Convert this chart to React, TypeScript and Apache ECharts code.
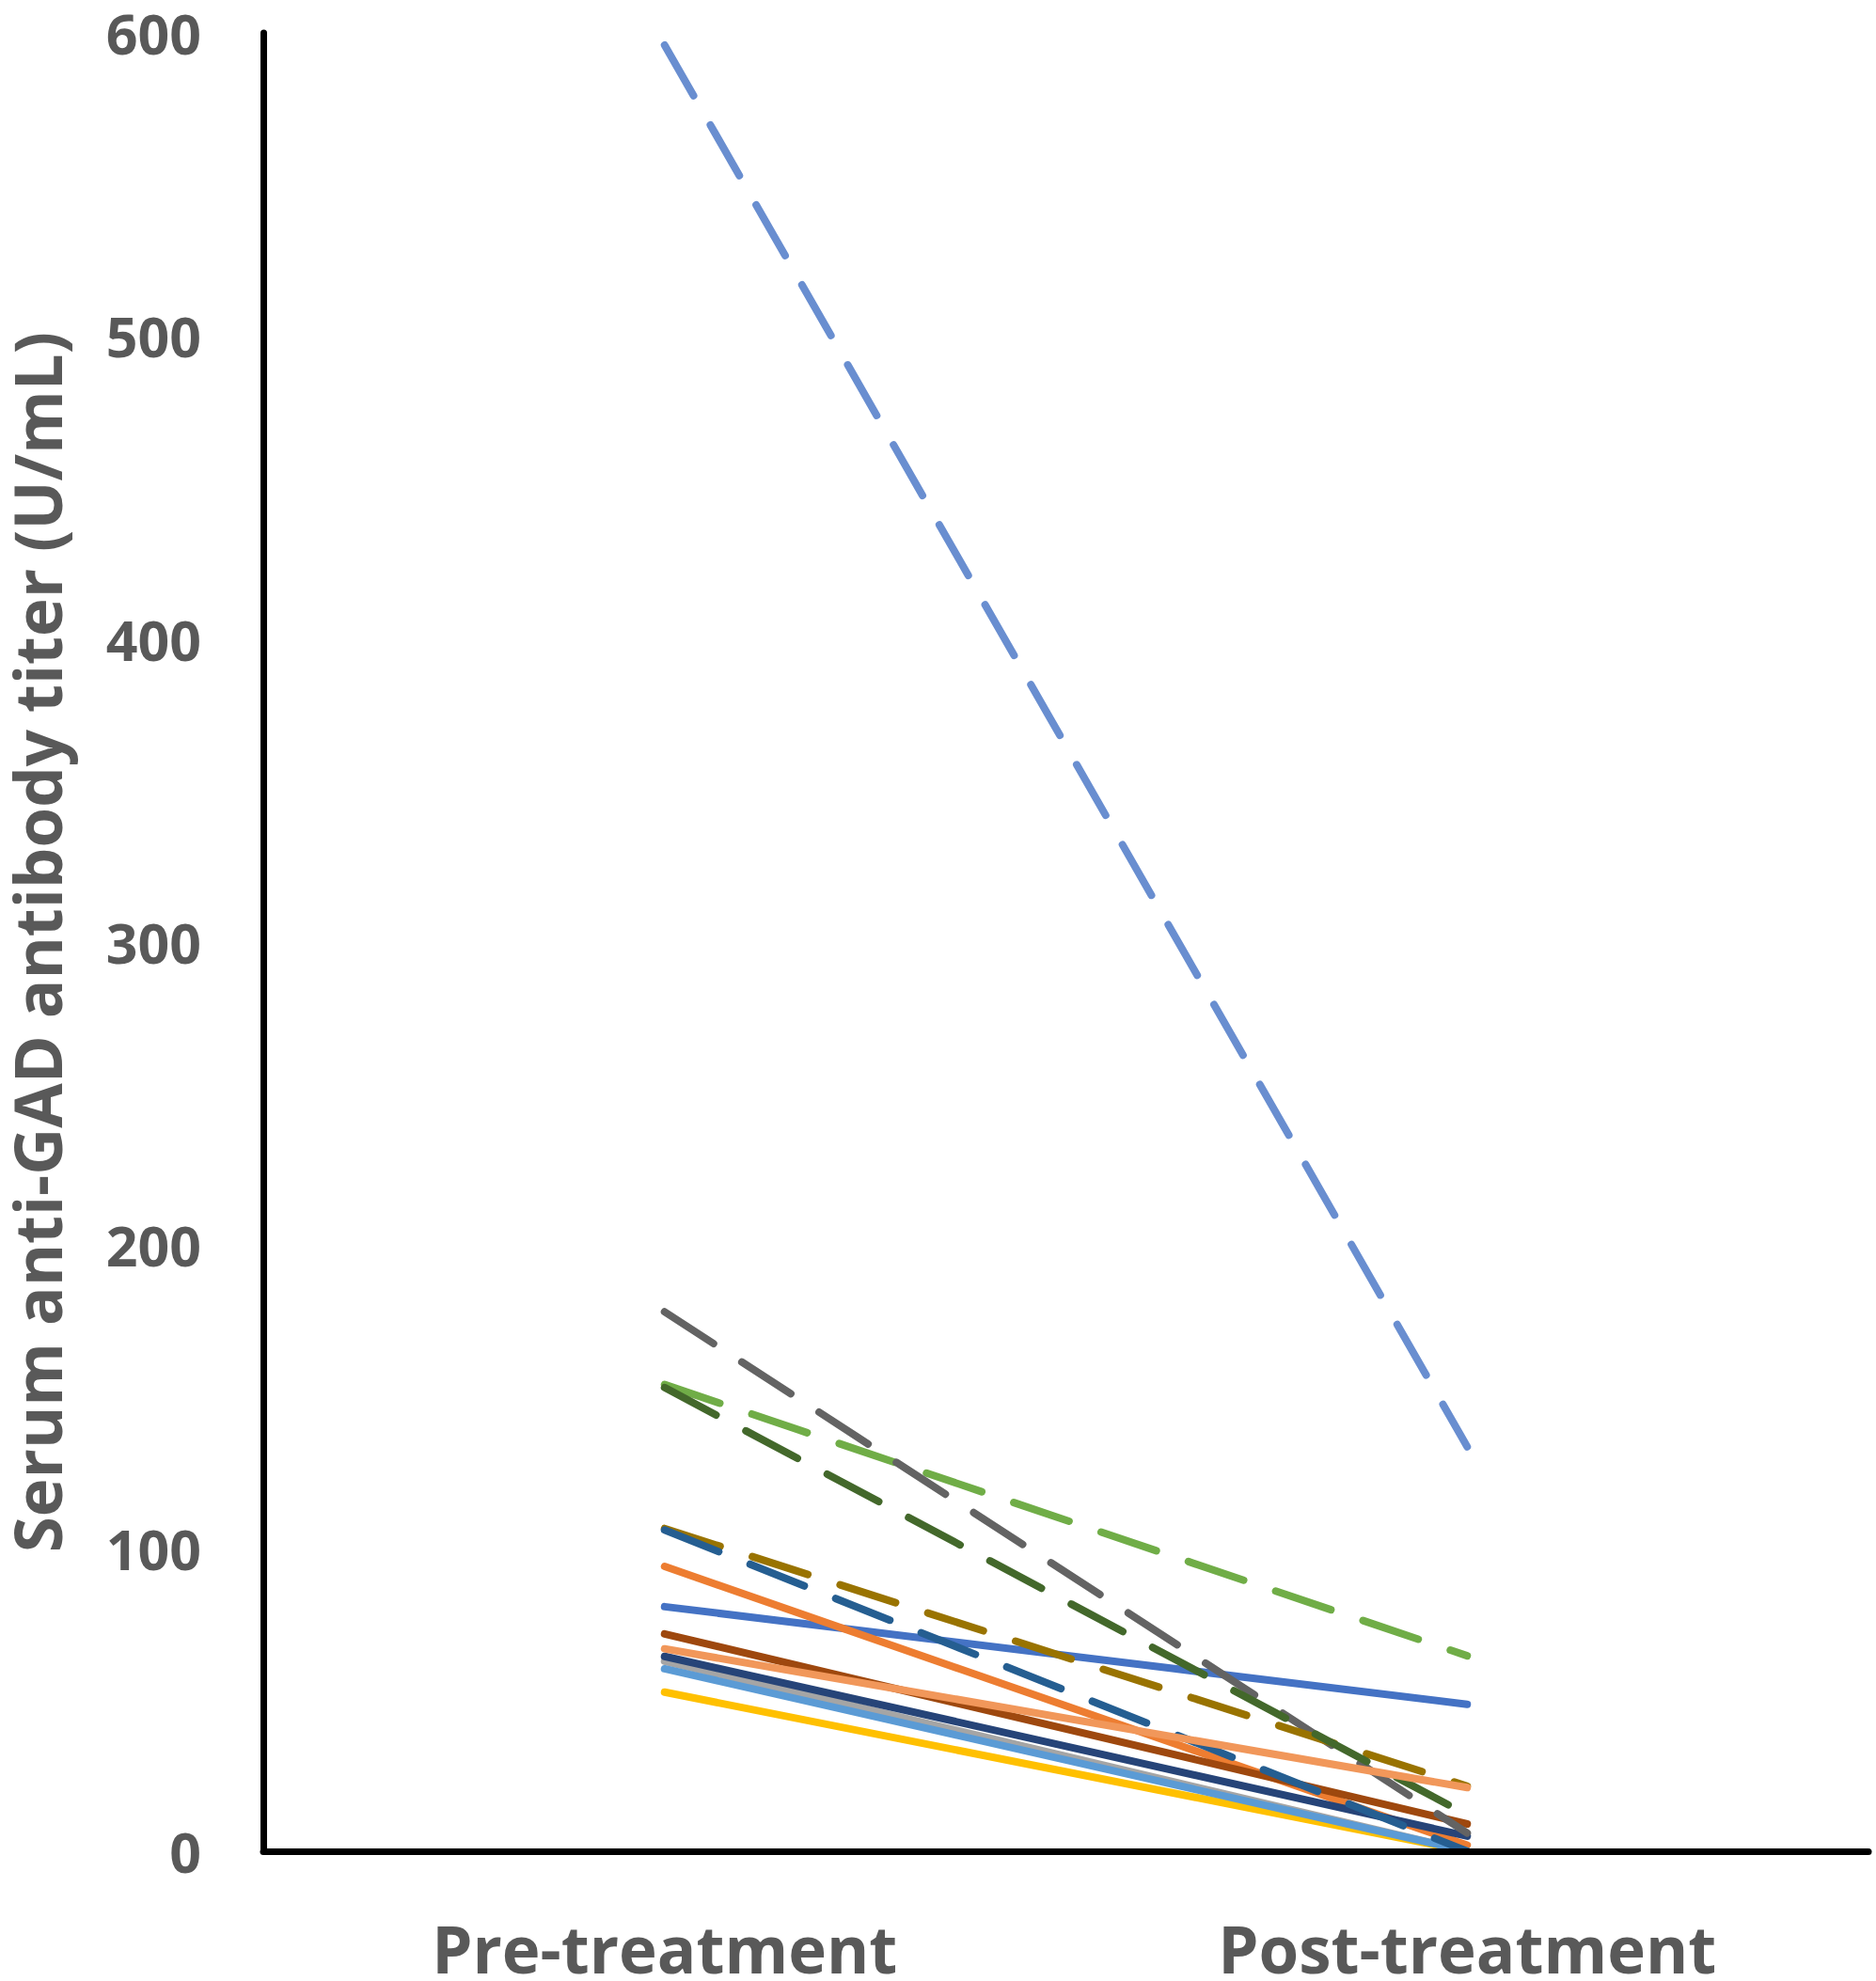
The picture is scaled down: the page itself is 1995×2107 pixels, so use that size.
import React, { useEffect, useRef } from "react";
import * as echarts from "echarts";

const categories = ["Pre-treatment", "Post-treatment"];
const yTicks = { min: 0, max: 600, interval: 100 };

const seriesNames = ["P1", "P2", "P3", "P4", "P5", "P6", "P7", "P8", "P9", "P10", "P11", "P12", "P13", "P14"];
const preValues = [80.7, 94, 62.7, 52.5, 60.2, 154, 64.3, 71.7, 178, 106.5, 106, 153, 596, 66.8];
const postValues = [48.5, 2, 0, 0, 0, 64.5, 5, 9, 6, 21.5, 0, 12, 133.5, 21];
const seriesColors = ["#4472C4", "#ED7D31", "#A5A5A5", "#FFC000", "#5B9BD5", "#70AD47", "#264478", "#9E480E", "#636363", "#997300", "#255E91", "#43682B", "#698ED0", "#F1975A"];
const seriesDashed = [false, false, false, false, false, true, false, false, true, true, true, true, true, false];

const FONT = "'Open Sans', 'Noto Sans', sans-serif";
const TEXT = "#595959";

export default function App() {
  const ref = useRef<HTMLDivElement>(null);
  useEffect(() => {
    if (!ref.current) return;
    const chart = echarts.init(ref.current, undefined, { renderer: "svg" });
    const series = seriesNames.map((name, i) => ({
      name,
      type: "line",
      data: [preValues[i], postValues[i]],
      symbol: "none",
      lineStyle: {
        color: seriesColors[i],
        width: 8,
        cap: "round",
        join: "round",
        type: seriesDashed[i] ? [62, 36] : "solid",
      },
      z: 2 + i,
    }));
    chart.setOption({
      animation: false,
      backgroundColor: "#ffffff",
      grid: { left: 280, right: 8, top: 35, bottom: 138, containLabel: false, outerBoundsMode: "none" },
      xAxis: {
        type: "category",
        data: categories,
        boundaryGap: true,
        axisLine: { show: true, lineStyle: { color: "#000", width: 7 } },
        axisTick: { show: false },
        axisLabel: { color: TEXT, fontFamily: FONT, fontWeight: "bold", fontSize: 69, lineHeight: 62, margin: 72 },
        splitLine: { show: false },
        z: 20,
      },
      yAxis: {
        type: "value",
        min: yTicks.min,
        max: yTicks.max,
        interval: yTicks.interval,
        axisLine: { show: true, lineStyle: { color: "#000", width: 7 } },
        axisTick: { show: false },
        splitLine: { show: false },
        axisLabel: { color: TEXT, fontFamily: FONT, fontWeight: "bold", fontSize: 59, lineHeight: 56, margin: 66 },
        name: "Serum anti-GAD antibody titer (U/mL)",
        nameLocation: "middle",
        nameRotate: 90,
        nameGap: 207,
        nameTextStyle: { color: TEXT, fontFamily: FONT, fontWeight: "bold", fontSize: 69, lineHeight: 69 },
        z: 20,
      },
      series,
    });
    return () => chart.dispose();
  }, []);
  return <div ref={ref} style={{ position: "absolute", left: 0, top: 0, width: 1995, height: 2107 }} />;
}
